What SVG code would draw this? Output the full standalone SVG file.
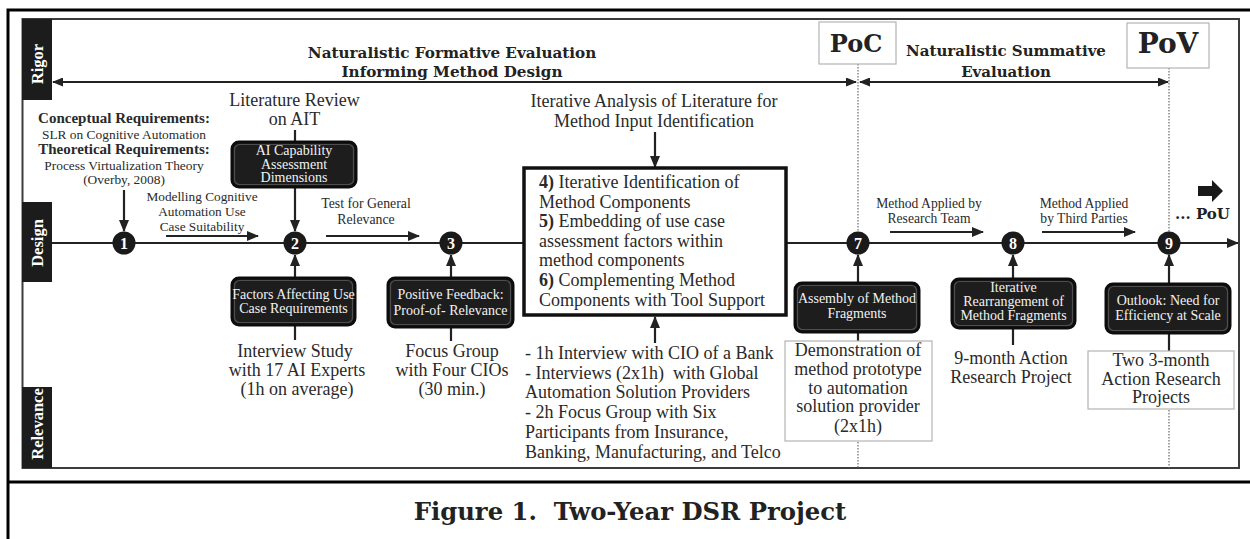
<svg xmlns="http://www.w3.org/2000/svg" width="1250" height="539" viewBox="0 0 1250 539">
  <style>
    .t { font-family: "Liberation Serif", "Times New Roman", serif; fill: #2a2a2a; }
    .b { font-weight: bold; }
    .hd { font-family: "DejaVu Serif", Georgia, serif; font-weight: bold; fill: #222; }
    .wt { font-family: "Liberation Serif", "Times New Roman", serif; fill: #f2f2f2; font-size: 14px; text-anchor: middle; }
    .side { font-family: "Liberation Serif", "Times New Roman", serif; font-weight: bold; font-size: 16.5px; fill: #fff; text-anchor: middle; }
    .num { font-family: "Liberation Serif", "Times New Roman", serif; font-weight: bold; font-size: 16px; fill: #fff; text-anchor: middle; }
    .m { text-anchor: middle; }
    .bx { fill: #1d1d1d; stroke: #0c0c0c; stroke-width: 3; }
    .bxi { fill: none; stroke: #4e4e4e; stroke-width: 1.2; }
    .wb { fill: #fff; stroke: #b4b4b4; stroke-width: 1.2; }
    .ln { stroke: #222; stroke-width: 2.2; fill: none; }
    .dot { stroke: #6a6a6a; stroke-width: 1.2; stroke-dasharray: 1.5 1.5; fill: none; }
    .circ { fill: #1a1a1a; }
  </style>
  <defs>
    <marker id="ah" viewBox="0 0 12 10" refX="11" refY="5" markerWidth="12" markerHeight="10" markerUnits="userSpaceOnUse" orient="auto-start-reverse">
      <path d="M0,0 L12,5 L0,10 z" fill="#222"/>
    </marker>
    <marker id="ahs" viewBox="0 0 11 9" refX="10" refY="4.5" markerWidth="11" markerHeight="9" markerUnits="userSpaceOnUse" orient="auto-start-reverse">
      <path d="M0,0 L11,4.5 L0,9 z" fill="#222"/>
    </marker>
  </defs>

  <!-- page frame and caption -->
  <g id="frame">
    <rect width="1250" height="539" fill="#fff"/>
    <path d="M8,539 V10 H1250" fill="none" stroke="#000" stroke-width="3"/>
    <line x1="8" y1="482" x2="1250" y2="482" stroke="#000" stroke-width="3"/>
    <rect x="22.5" y="19" width="1216.5" height="449" fill="none" stroke="#3c3c3c" stroke-width="2"/>
    <text class="hd" x="630" y="520" font-size="24.3" text-anchor="middle" xml:space="preserve">Figure 1.  Two-Year DSR Project</text>
  </g>

  <!-- swimlane labels -->
  <g id="lane-rigor">
    <rect x="22" y="19" width="30" height="81" fill="#1c1c1c"/>
    <text class="side" transform="translate(42.5,64) rotate(-90)">Rigor</text>
  </g>
  <g id="lane-design">
    <rect x="22" y="202" width="30" height="80" fill="#1c1c1c"/>
    <text class="side" transform="translate(42.5,243) rotate(-90)">Design</text>
  </g>
  <g id="lane-relevance">
    <rect x="22" y="387" width="30" height="81" fill="#1c1c1c"/>
    <text class="side" transform="translate(42.5,424) rotate(-90)">Relevance</text>
  </g>

  <!-- connectors -->
  <g id="connectors">
    <line class="dot" x1="858" y1="64" x2="858" y2="468"/>
    <line class="dot" x1="1169" y1="68" x2="1169" y2="468"/>

    <line class="ln" x1="53" y1="82" x2="856" y2="82" stroke-width="2" marker-start="url(#ahs)" marker-end="url(#ahs)"/>
    <line class="ln" x1="860" y1="82" x2="1168" y2="82" stroke-width="2" marker-start="url(#ahs)" marker-end="url(#ahs)"/>

    <line class="ln" x1="52" y1="243" x2="1238" y2="243" stroke-width="2.6" marker-end="url(#ah)"/>

    <line class="ln" x1="166" y1="236" x2="258" y2="236" marker-end="url(#ah)"/>
    <line class="ln" x1="326" y1="236" x2="419" y2="236" marker-end="url(#ah)"/>
    <line class="ln" x1="890" y1="232" x2="983" y2="232" marker-end="url(#ah)"/>
    <line class="ln" x1="1042" y1="232" x2="1135" y2="232" marker-end="url(#ah)"/>

    <line class="ln" x1="124" y1="190" x2="124" y2="231" marker-end="url(#ah)"/>
    <line class="ln" x1="295" y1="130" x2="295" y2="142"/>
    <line class="ln" x1="295" y1="187" x2="295" y2="231" marker-end="url(#ah)"/>
    <line class="ln" x1="295" y1="278" x2="295" y2="255" marker-end="url(#ah)"/>
    <line class="ln" x1="295" y1="325" x2="295" y2="340"/>
    <line class="ln" x1="451" y1="278" x2="451" y2="255" marker-end="url(#ah)"/>
    <line class="ln" x1="451" y1="327" x2="451" y2="341"/>
    <line class="ln" x1="655" y1="132" x2="655" y2="167" marker-end="url(#ah)"/>
    <line class="ln" x1="655" y1="343" x2="655" y2="317" marker-end="url(#ah)"/>
    <line class="ln" x1="858" y1="283" x2="858" y2="255" marker-end="url(#ah)"/>
    <line class="ln" x1="858" y1="332" x2="858" y2="341"/>
    <line class="ln" x1="1013" y1="279" x2="1013" y2="255" marker-end="url(#ah)"/>
    <line class="ln" x1="1013" y1="328" x2="1013" y2="345"/>
    <line class="ln" x1="1169" y1="284" x2="1169" y2="255" marker-end="url(#ah)"/>
    <line class="ln" x1="1169" y1="333" x2="1169" y2="351"/>

    <polygon points="1198,186 1212,186 1212,180 1223,191 1212,202 1212,196 1198,196" fill="#1a1a1a"/>
  </g>

  <!-- phase headings -->
  <g id="phase-formative">
    <text class="hd m" x="452" y="58" font-size="15.2">Naturalistic Formative Evaluation</text>
    <text class="hd m" x="452" y="77" font-size="15.2">Informing Method Design</text>
  </g>
  <g id="phase-summative">
    <text class="hd m" x="1006" y="56" font-size="15">Naturalistic Summative</text>
    <text class="hd m" x="1006" y="77" font-size="15">Evaluation</text>
  </g>
  <g id="poc">
    <rect class="wb" x="819" y="22" width="77" height="42"/>
    <text class="hd m" x="856" y="52" font-size="24">PoC</text>
  </g>
  <g id="pov">
    <rect class="wb" x="1127" y="23" width="82" height="45"/>
    <text class="hd m" x="1168" y="53" font-size="28">PoV</text>
  </g>
  <g id="pou">
    <text class="hd" x="1175" y="219" font-size="15">... PoU</text>
  </g>

  <!-- step 1 -->
  <g id="requirements">
    <text class="t b m" x="124" y="123" font-size="15">Conceptual Requirements:</text>
    <text class="t m" x="124" y="138.5" font-size="13.4">SLR on Cognitive Automation</text>
    <text class="t b m" x="124" y="154" font-size="15">Theoretical Requirements:</text>
    <text class="t m" x="124" y="169.5" font-size="13.4">Process Virtualization Theory</text>
    <text class="t m" x="124" y="183.5" font-size="13.4">(Overby, 2008)</text>
  </g>
  <g id="step-1">
    <circle class="circ" cx="124" cy="243" r="11.5"/>
    <text class="num" x="124" y="248.5">1</text>
  </g>
  <g id="label-modelling">
    <text class="t m" x="202" y="201" font-size="13.3">Modelling Cognitive</text>
    <text class="t m" x="202" y="216" font-size="13.3">Automation Use</text>
    <text class="t m" x="202" y="231" font-size="13.3">Case Suitability</text>
  </g>

  <!-- step 2 -->
  <g id="literature-ait">
    <text class="t m" x="294.5" y="106" font-size="18">Literature Review</text>
    <text class="t m" x="294.5" y="125" font-size="18">on AIT</text>
  </g>
  <g id="ai-capability">
    <rect class="bx" x="232" y="142" width="124" height="45" rx="7"/>
    <rect class="bxi" x="234.5" y="144.5" width="119" height="40" rx="5"/>
    <text class="wt" x="294" y="155" font-size="14.5">AI Capability</text>
    <text class="wt" x="294" y="168.5" font-size="14.5">Assessment</text>
    <text class="wt" x="294" y="182" font-size="14.5">Dimensions</text>
  </g>
  <g id="step-2">
    <circle class="circ" cx="295" cy="243" r="11.5"/>
    <text class="num" x="295" y="248.5">2</text>
  </g>
  <g id="factors">
    <rect class="bx" x="232" y="278" width="123" height="47" rx="7"/>
    <rect class="bxi" x="234.5" y="280.5" width="118" height="42" rx="5"/>
    <text class="wt" x="293.5" y="298.5" font-size="13.6">Factors Affecting Use</text>
    <text class="wt" x="293.5" y="313" font-size="13.6">Case Requirements</text>
  </g>
  <g id="interview-study">
    <text class="t m" x="295" y="357" font-size="18">Interview Study</text>
    <text class="t m" x="297" y="376" font-size="18">with 17 AI Experts</text>
    <text class="t m" x="297" y="395" font-size="18">(1h on average)</text>
  </g>

  <!-- step 3 -->
  <g id="label-test">
    <text class="t m" x="366" y="208" font-size="13.8">Test for General</text>
    <text class="t m" x="366" y="224" font-size="13.8">Relevance</text>
  </g>
  <g id="step-3">
    <circle class="circ" cx="451" cy="243" r="11.5"/>
    <text class="num" x="451" y="248.5">3</text>
  </g>
  <g id="positive-feedback">
    <rect class="bx" x="388" y="278" width="125" height="49" rx="7"/>
    <rect class="bxi" x="390.5" y="280.5" width="120" height="44" rx="5"/>
    <text class="wt" x="450.5" y="299" font-size="13.8">Positive Feedback:</text>
    <text class="wt" x="450.5" y="314.5" font-size="13.8">Proof-of- Relevance</text>
  </g>
  <g id="focus-group">
    <text class="t m" x="452" y="357" font-size="18">Focus Group</text>
    <text class="t m" x="452" y="376" font-size="18">with Four CIOs</text>
    <text class="t m" x="452" y="395" font-size="18">(30 min.)</text>
  </g>

  <!-- steps 4 to 6 -->
  <g id="literature-method">
    <text class="t m" x="654" y="107" font-size="18">Iterative Analysis of Literature for</text>
    <text class="t m" x="654" y="127" font-size="18">Method Input Identification</text>
  </g>
  <g id="steps-4-6">
    <rect x="524" y="168" width="262" height="147" fill="#fff" stroke="#111" stroke-width="3.5"/>
    <text class="t" x="539" y="188" font-size="18"><tspan font-weight="bold">4)</tspan> Iterative Identification of</text>
    <text class="t" x="539" y="207.5" font-size="18">Method Components</text>
    <text class="t" x="539" y="227" font-size="18"><tspan font-weight="bold">5)</tspan> Embedding of use case</text>
    <text class="t" x="539" y="246.5" font-size="18">assessment factors within</text>
    <text class="t" x="539" y="266" font-size="18">method components</text>
    <text class="t" x="539" y="286" font-size="18"><tspan font-weight="bold">6)</tspan> Complementing Method</text>
    <text class="t" x="539" y="306" font-size="18">Components with Tool Support</text>
  </g>
  <g id="interviews">
    <text class="t" x="525" y="359" font-size="18">- 1h Interview with CIO of a Bank</text>
    <text class="t" x="525" y="378.5" font-size="18" xml:space="preserve">- Interviews (2x1h)  with Global</text>
    <text class="t" x="525" y="398" font-size="18">Automation Solution Providers</text>
    <text class="t" x="525" y="418" font-size="18">- 2h Focus Group with Six</text>
    <text class="t" x="525" y="438" font-size="18">Participants from Insurance,</text>
    <text class="t" x="525" y="458" font-size="18">Banking, Manufacturing, and Telco</text>
  </g>

  <!-- step 7 -->
  <g id="step-7">
    <circle class="circ" cx="858" cy="243" r="11.5"/>
    <text class="num" x="858" y="248.5">7</text>
  </g>
  <g id="assembly">
    <rect class="bx" x="795" y="283" width="124" height="49" rx="7"/>
    <rect class="bxi" x="797.5" y="285.5" width="119" height="44" rx="5"/>
    <text class="wt" x="857" y="303">Assembly of Method</text>
    <text class="wt" x="857" y="317.5">Fragments</text>
  </g>
  <g id="demonstration">
    <rect class="wb" x="785" y="341" width="147" height="100"/>
    <text class="t m" x="858" y="356" font-size="18">Demonstration of</text>
    <text class="t m" x="858" y="375" font-size="18">method prototype</text>
    <text class="t m" x="858" y="393.5" font-size="18">to automation</text>
    <text class="t m" x="858" y="412" font-size="18">solution provider</text>
    <text class="t m" x="858" y="432" font-size="18">(2x1h)</text>
  </g>

  <!-- step 8 -->
  <g id="label-research-team">
    <text class="t m" x="929" y="208" font-size="13.6">Method Applied by</text>
    <text class="t m" x="929" y="223" font-size="13.6">Research Team</text>
  </g>
  <g id="step-8">
    <circle class="circ" cx="1013" cy="243" r="11.5"/>
    <text class="num" x="1013" y="248.5">8</text>
  </g>
  <g id="rearrangement">
    <rect class="bx" x="952" y="279" width="123" height="49" rx="7"/>
    <rect class="bxi" x="954.5" y="281.5" width="118" height="44" rx="5"/>
    <text class="wt" x="1013.5" y="292">Iterative</text>
    <text class="wt" x="1013.5" y="306">Rearrangement of</text>
    <text class="wt" x="1013.5" y="320">Method Fragments</text>
  </g>
  <g id="action-research-9m">
    <text class="t m" x="1011" y="364" font-size="18">9-month Action</text>
    <text class="t m" x="1011" y="383" font-size="18">Research Project</text>
  </g>

  <!-- step 9 -->
  <g id="label-third-parties">
    <text class="t m" x="1084" y="208" font-size="13.6">Method Applied</text>
    <text class="t m" x="1084" y="223" font-size="13.6">by Third Parties</text>
  </g>
  <g id="step-9">
    <circle class="circ" cx="1169" cy="243" r="11.5"/>
    <text class="num" x="1169" y="248.5">9</text>
  </g>
  <g id="outlook">
    <rect class="bx" x="1106" y="284" width="124" height="49" rx="7"/>
    <rect class="bxi" x="1108.5" y="286.5" width="119" height="44" rx="5"/>
    <text class="wt" x="1168" y="305">Outlook: Need for</text>
    <text class="wt" x="1168" y="319.5">Efficiency at Scale</text>
  </g>
  <g id="action-research-3m">
    <rect class="wb" x="1088" y="351" width="146" height="58"/>
    <text class="t m" x="1161" y="366" font-size="18">Two 3-month</text>
    <text class="t m" x="1161" y="384.5" font-size="18">Action Research</text>
    <text class="t m" x="1161" y="403" font-size="18">Projects</text>
  </g>
</svg>
